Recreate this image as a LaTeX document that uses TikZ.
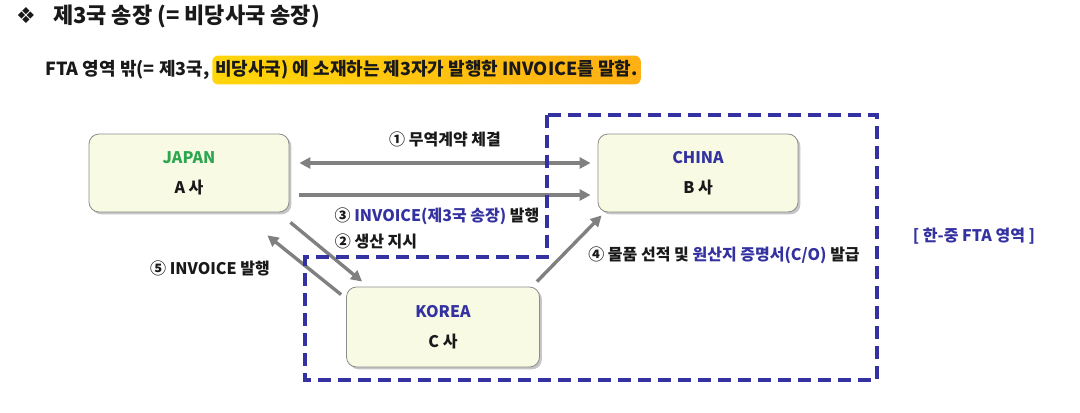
\documentclass[tikz,border=0pt]{standalone}
\usepackage{fontspec}
\setmainfont{Noto Sans CJK KR}
\newfontfamily\symfont{DejaVu Sans}
\usetikzlibrary{
  arrows.meta,
  positioning,
  calc,
  shadows
}
\definecolor{ftablue}{RGB}{52,50,160}
\definecolor{jpgreen}{RGB}{46,166,80}
\definecolor{boxfill}{RGB}{248,250,228}
\definecolor{arrowgray}{RGB}{128,128,128}
\definecolor{markerA}{RGB}{255,214,10}
\definecolor{markerB}{RGB}{255,176,20}

\begin{document}
\begin{tikzpicture}[
  x=0.5pt, y=-0.5pt,
  every node/.style={font=\bfseries\fontsize{8}{10}\selectfont, text=black!90},
  ctrybox/.style={draw=black!45, fill=boxfill, rounded corners=5pt,
               minimum width=100pt, minimum height=39pt, align=center,
               font=\bfseries\fontsize{8}{15}\selectfont,
               drop shadow={shadow xshift=1.2pt, shadow yshift=-1.2pt,
                            fill=black!50, opacity=0.45}},
  flow/.style={draw=arrowgray, line width=1.7pt,
               -{Triangle[length=5.5pt,width=5.5pt]}},
  zone/.style={draw=ftablue, line width=1.6pt, dash pattern=on 6.5pt off 3.5pt},
  >=Stealth
]
\useasboundingbox (0,0) rectangle (1080,412);

% heading
\node[font=\symfont\fontsize{11}{12}\selectfont] (bullet) at (26,16) {❖};
\node[anchor=west, font=\bfseries\fontsize{11}{13}\selectfont] (title) at (46,16)
  {제3국 송장 (= 비당사국 송장)};
\node[anchor=west, inner xsep=0pt, font=\bfseries\fontsize{9}{11}\selectfont] (sub) at (45,70)
  {FTA 영역 밖(= 제3국,};
\node[right=1pt of sub, inner xsep=1.5pt, inner ysep=2.5pt, rounded corners=3pt,
      left color=markerA, right color=markerB,
      font=\bfseries\fontsize{9}{11}\selectfont] (mark)
  {비당사국) 에 소재하는 제3자가 발행한 INVOICE를 말함.};

% companies
\node[ctrybox] (jp) at (189,173) {\textcolor{jpgreen}{JAPAN}\\A 사};
\node[ctrybox] (cn) at (698,173) {\textcolor{ftablue}{CHINA}\\B 사};
\node[ctrybox, minimum width=96.5pt, minimum height=40pt] (kr) at (443,327)
  {\textcolor{ftablue}{KOREA}\\C 사};

% flows
\draw[flow, {Triangle[length=5.5pt,width=5.5pt]}-{Triangle[length=5.5pt,width=5.5pt]}]
  ([xshift=5pt,yshift=5pt]jp.east) -- ([xshift=-3.5pt,yshift=5pt]cn.west)
  node[midway, yshift=12pt] {① 무역계약 체결};
\draw[flow] ([xshift=5pt,yshift=-11pt]jp.east) -- ([xshift=-3.5pt,yshift=-11pt]cn.west)
  node[midway, xshift=-4pt, yshift=-10.5pt] {③ \textcolor{ftablue}{INVOICE(제3국 송장)} 발행};
\draw[flow] ($(jp.south east)+(1,10)$) -- ($(kr.north west)+(16,-5)$);
\node (lbl2) at (376,241) {② 생산 지시};
\draw[flow] ($(kr.north west)+(-5,8)$) -- ($(jp.south east)+(-22,23)$);
\node (lbl5) at (210,268) {⑤ INVOICE 발행};
\draw[flow] ($(kr.north east)+(-3,-5)$) -- ($(cn.south west)+(4,3)$);
\node (lbl4) at (724,255) {④ 물품 선적 및 \textcolor{ftablue}{원산지 증명서(C/O)} 발급};

% FTA zone
\draw[zone] (547,115) -- (547,257) -- (305,257) -- (305,380)
  -- (877,380) -- (877,115) -- cycle;
\node[text=ftablue] (zonelbl) at (974,236) {[ 한-중 FTA 영역 ]};

\end{tikzpicture}
\end{document}
